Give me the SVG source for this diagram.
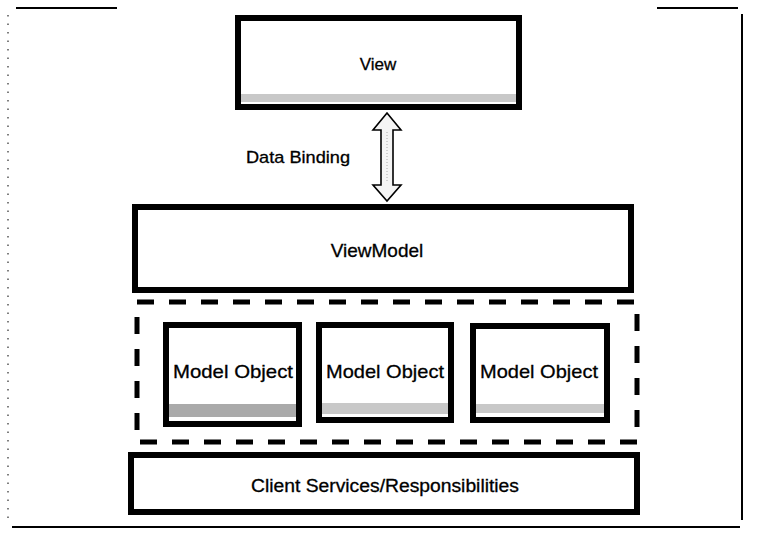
<svg xmlns="http://www.w3.org/2000/svg" width="757" height="540" viewBox="0 0 757 540">
<style>
.box{fill:#fff;stroke:#000;stroke-width:6}
.band{fill:#c8c8c8}
.lbl{font-family:"Liberation Sans",Arial,sans-serif;fill:#000;text-anchor:middle;stroke:#000;stroke-width:0.3}
.frame{stroke:#000;stroke-width:2;fill:none}
</style>
<rect width="757" height="540" fill="#fff"/>
<g id="frame">
<line class="frame" x1="16" y1="8" x2="117" y2="8"/>
<line class="frame" x1="657" y1="8" x2="738" y2="8"/>
<line class="frame" x1="742" y1="14" x2="742" y2="520"/>
<line class="frame" x1="12" y1="527" x2="740" y2="527"/>
<line x1="8" y1="15" x2="8" y2="520" stroke="#555" stroke-width="1.5" stroke-dasharray="1.5 7"/>
</g>
<g id="view">
<rect class="box" x="238" y="18" width="281" height="89"/>
<rect class="band" x="241" y="94" width="275" height="8"/>
<text class="lbl" x="378" y="70" font-size="17">View</text>
</g>
<g id="connectors">
<polygon points="387,113 401,130 393,130 393,185 401,185 387,201 373,185 381,185 381,130 373,130" fill="#f4f4f4" stroke="#000" stroke-width="1.6"/>
<line x1="387" y1="132" x2="387" y2="183" stroke="#aaa" stroke-width="1" stroke-dasharray="1 2"/>
<text class="lbl" x="298" y="163" font-size="17" textLength="104" lengthAdjust="spacingAndGlyphs">Data Binding</text>
</g>
<g id="viewmodel">
<rect class="box" x="135" y="207" width="496" height="83"/>
<text class="lbl" x="377" y="257" font-size="19">ViewModel</text>
</g>
<g id="model-group">
<rect x="137" y="302" width="500" height="140" fill="none" stroke="#000" stroke-width="5" stroke-dasharray="17 15"/>
</g>
<g id="model1">
<rect class="box" x="166" y="325" width="133" height="99"/>
<rect x="169" y="404" width="127" height="13" fill="#aaa"/>
<text class="lbl" x="233" y="378" font-size="19" textLength="120" lengthAdjust="spacingAndGlyphs">Model Object</text>
</g>
<g id="model2">
<rect class="box" x="319" y="325" width="132" height="95"/>
<rect class="band" x="322" y="403" width="126" height="11"/>
<text class="lbl" x="385" y="378" font-size="19" textLength="118" lengthAdjust="spacingAndGlyphs">Model Object</text>
</g>
<g id="model3">
<rect class="box" x="473" y="326" width="134" height="94"/>
<rect class="band" x="476" y="404" width="128" height="9"/>
<text class="lbl" x="539" y="378" font-size="19" textLength="118" lengthAdjust="spacingAndGlyphs">Model Object</text>
</g>
<g id="client">
<rect class="box" x="131" y="455" width="506" height="57"/>
<text class="lbl" x="385" y="492" font-size="18" textLength="268" lengthAdjust="spacingAndGlyphs">Client Services/Responsibilities</text>
</g>
</svg>
